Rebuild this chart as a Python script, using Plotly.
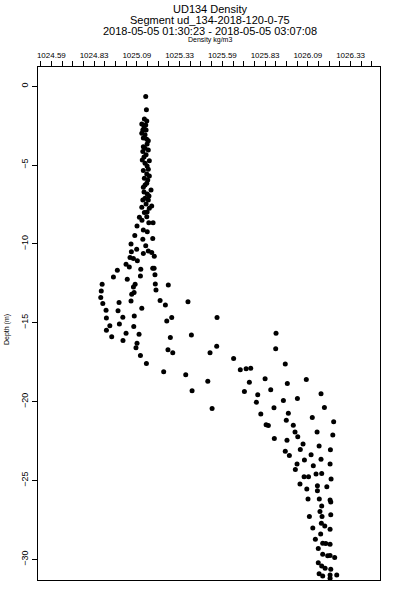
import plotly.graph_objects as go

density = [
    1025.137, 1025.141, 1025.129, 1025.143, 1025.114, 1025.137, 1025.120, 1025.139, 1025.114, 1025.133,
    1025.123, 1025.143, 1025.152, 1025.123, 1025.133, 1025.152, 1025.120, 1025.139, 1025.117, 1025.158,
    1025.133, 1025.152, 1025.123, 1025.143, 1025.158, 1025.129, 1025.149, 1025.143, 1025.123, 1025.168,
    1025.146, 1025.133, 1025.120, 1025.152, 1025.139, 1025.114, 1025.172, 1025.158, 1025.129, 1025.100,
    1025.143, 1025.115, 1025.155, 1025.180, 1025.086, 1025.123, 1025.146, 1025.073, 1025.120, 1025.178,
    1025.051, 1025.137, 1025.084, 1025.152, 1025.053, 1025.123, 1025.172, 1025.187, 1025.045, 1025.065,
    1025.127, 1025.145, 1025.127, 1025.145, 1025.133, 1025.127, 1025.156, 1025.145,
    1025.088, 1025.022, 1025.041, 1024.971, 1025.108, 1025.178, 1025.186, 1024.948, 1025.106, 1025.191,
    1025.029, 1024.882, 1025.075, 1025.193, 1025.269, 1025.065, 1024.877, 1025.197, 1025.069, 1025.055,
    1024.874, 1025.051, 1025.221, 1025.252, 1025.384, 1024.886, 1024.981, 1024.905, 1024.975, 1025.114,
    1024.907, 1025.003, 1025.070, 1025.289, 1025.260, 1024.927, 1024.983, 1025.067, 1024.907, 1025.022,
    1025.098, 1025.404, 1024.938, 1025.004, 1025.281, 1025.086, 1025.080, 1025.267, 1025.295, 1025.513,
    1025.106, 1025.141, 1025.242, 1025.371, 1025.500, 1025.408,
    1025.554, 1025.899, 1025.552, 1025.897, 1025.651, 1025.953, 1025.690, 1025.724, 1025.751, 1025.743,
    1025.835, 1025.965, 1026.076, 1025.714, 1025.868, 1025.792, 1025.784, 1025.942, 1026.024, 1026.162,
    1025.525, 1025.887, 1026.182, 1025.810, 1025.971, 1025.959, 1026.111, 1026.236, 1025.841, 1025.854,
    1026.000, 1026.010, 1026.139, 1026.231, 1026.026, 1025.889, 1025.963, 1026.057, 1026.151, 1026.041,
    1026.217, 1025.953, 1025.977, 1026.104, 1026.065, 1026.162,
    1026.117, 1026.022, 1026.012, 1026.215, 1026.063, 1026.089, 1026.133, 1026.166, 1026.039, 1026.079,
    1026.141, 1026.196, 1026.221, 1026.141, 1026.086, 1026.152, 1026.215, 1026.219, 1026.166, 1026.156,
    1026.168, 1026.094, 1026.219, 1026.114, 1026.164, 1026.184, 1026.215, 1026.160, 1026.129, 1026.172,
    1026.190, 1026.215, 1026.146, 1026.172, 1026.201, 1026.215, 1026.242, 1026.146, 1026.166, 1026.186,
    1026.219, 1026.151, 1026.172, 1026.215, 1026.215, 1026.254,
]

depth = [
    -0.65, -1.49, -2.07, -2.21, -2.40, -2.45, -2.77, -2.77, -2.98, -3.08,
    -3.29, -3.36, -3.46, -3.83, -3.93, -4.04, -4.14, -4.35, -4.67, -4.72,
    -4.88, -5.26, -5.35, -5.56, -5.69, -5.84, -5.94, -6.15, -6.41, -6.58,
    -6.83, -7.11, -7.22, -7.22, -7.47, -7.68, -7.60, -7.74, -8.00, -8.31,
    -8.28, -8.49, -8.66, -8.66, -8.87, -9.12, -9.23, -9.46, -9.71, -9.65,
    -10.01, -10.12, -10.33, -10.44, -10.50, -10.60, -10.54, -10.78, -10.86, -10.92,
    -2.57, -3.66, -4.48, -5.05, -6.26, -6.71, -6.96, -7.98,
    -11.07, -11.28, -11.46, -11.67, -11.60, -11.54, -11.54, -12.09, -12.03, -11.96,
    -12.24, -12.56, -12.56, -12.54, -12.60, -12.73, -12.98, -12.92, -13.08, -13.19,
    -13.40, -13.62, -13.59, -13.87, -13.66, -13.78, -13.72, -14.21, -14.23, -14.08,
    -14.70, -14.65, -14.57, -14.67, -14.89, -15.18, -15.08, -15.23, -15.48, -15.67,
    -15.72, -15.78, -15.88, -16.12, -15.94, -16.29, -16.58, -16.71, -16.90, -16.90,
    -17.07, -17.58, -18.11, -18.30, -18.70, -19.31,
    -14.67, -15.67, -16.48, -16.64, -17.26, -17.62, -17.98, -17.91, -17.88, -18.77,
    -18.55, -18.85, -18.59, -19.36, -19.25, -19.57, -20.04, -19.93, -19.80, -19.50,
    -20.44, -20.39, -20.37, -20.78, -20.74, -21.18, -21.01, -21.28, -21.46, -21.52,
    -21.50, -21.92, -21.92, -22.11, -22.22, -22.33, -22.45, -22.68, -22.81, -23.03,
    -23.05, -23.15, -23.41, -23.36, -23.70, -23.66,
    -24.06, -23.95, -24.30, -23.95, -24.76, -24.76, -24.59, -24.55, -25.23, -25.54,
    -25.33, -25.40, -24.91, -25.65, -26.18, -26.18, -26.24, -26.37, -26.61, -26.97,
    -27.29, -27.29, -27.18, -28.02, -27.71, -27.88, -28.09, -28.40, -28.72, -28.98,
    -29.00, -29.04, -29.32, -29.68, -29.78, -29.76, -29.89, -30.21, -30.42, -30.57,
    -30.63, -30.91, -31.05, -30.99, -31.20, -30.99,
]

x_tickvals = [1024.585, 1024.835, 1025.085, 1025.335, 1025.585, 1025.835, 1026.085, 1026.335]
x_ticktext = ["1024.59", "1024.83", "1025.09", "1025.33", "1025.59", "1025.83", "1026.09", "1026.33"]
y_tickvals = [0, -5, -10, -15, -20, -25, -30]

title_lines = ["UD134 Density", "Segment ud_134-2018-120-0-75",
               "2018-05-05 01:30:23 - 2018-05-05 03:07:08"]
x_title = "Density kg/m3"
y_title = "Depth (m)"

FONT = "Liberation Sans, Arial, sans-serif"
W, H = 400, 600
ML, MR, MT, MB = 38, 20, 67, 20
PH = H - MT - MB
PW = W - ML - MR


def py(p):
    return 1 + (MT - p) / PH


def px(p):
    return (p - ML) / PW


fig = go.Figure(go.Scatter(
    x=density, y=depth, mode="markers",
    marker=dict(color="black", size=5, symbol="circle", line=dict(width=0)),
    hoverinfo="x+y",
))

annotations = []
for txt, yp in zip(title_lines, [9, 20, 31]):
    annotations.append(dict(text=txt, xref="paper", yref="paper", x=px(210), y=py(yp),
                            xanchor="center", yanchor="middle", showarrow=False,
                            font=dict(size=11, family=FONT, color="black")))
annotations.append(dict(text=x_title, xref="paper", yref="paper", x=px(210), y=py(40),
                        xanchor="center", yanchor="middle", showarrow=False,
                        font=dict(size=7, family=FONT, color="black")))
annotations.append(dict(text=y_title, xref="paper", yref="paper", x=px(7), y=py(330),
                        xanchor="center", yanchor="middle", showarrow=False, textangle=-90,
                        font=dict(size=7, family=FONT, color="black")))

fig.update_layout(
    width=W, height=H,
    margin=dict(l=ML, r=MR, t=MT, b=MB, autoexpand=False),
    paper_bgcolor="white", plot_bgcolor="white",
    showlegend=False,
    font=dict(family=FONT, color="black", size=9),
    annotations=annotations,
)

fig.update_xaxes(
    side="top", range=[1024.507, 1026.507], automargin=False,
    tickmode="array", tickvals=x_tickvals, ticktext=x_ticktext,
    ticks="outside", ticklen=5, tickwidth=1, tickcolor="black",
    tickfont=dict(size=8),
    minor=dict(dtick=0.0625, tick0=1024.585, ticks="outside", ticklen=5,
               tickwidth=1, tickcolor="black", showgrid=False),
    showline=True, linecolor="black", linewidth=1, mirror=True,
    showgrid=False, zeroline=False,
)

fig.update_yaxes(
    range=[-31.31, 1.22], automargin=False,
    tickmode="array", tickvals=y_tickvals,
    ticks="outside", ticklen=5, tickwidth=1, tickcolor="black",
    tickangle=-90, tickfont=dict(size=9),
    showline=True, linecolor="black", linewidth=1, mirror=True,
    showgrid=False, zeroline=False,
)

fig.write_html(
    "out.html",
    config={"displayModeBar": False},
    post_script="document.body.style.margin='0';document.body.style.overflow='hidden';",
)
